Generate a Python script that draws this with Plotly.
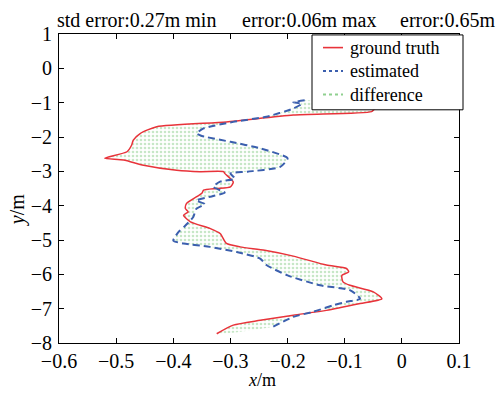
import plotly.graph_objects as go

# Ground truth trajectory
gt_x = [-0.003, -0.047, -0.053, -0.19, -0.307, -0.429, -0.458, -0.47, -0.473, -0.481,
        -0.52, -0.487, -0.452, -0.394, -0.353, -0.312, -0.31, -0.295, -0.30, -0.324,
        -0.347, -0.35, -0.359, -0.377, -0.379, -0.374, -0.382, -0.37, -0.336, -0.318,
        -0.307, -0.283, -0.24, -0.19, -0.132, -0.097, -0.093, -0.105, -0.103, -0.091,
        -0.05, -0.035, -0.073, -0.132, -0.19, -0.248, -0.295, -0.324]
gt_y = [-0.97, -1.17, -1.26, -1.36, -1.56, -1.70, -1.90, -2.09, -2.24, -2.43,
        -2.62, -2.67, -2.82, -2.97, -3.01, -3.01, -3.06, -3.31, -3.45, -3.50,
        -3.55, -3.64, -3.74, -3.94, -4.08, -4.18, -4.28, -4.47, -4.66, -4.81,
        -5.10, -5.20, -5.30, -5.47, -5.73, -5.83, -5.93, -6.03, -6.22, -6.32,
        -6.51, -6.71, -6.85, -7.05, -7.19, -7.34, -7.48, -7.73]

# Estimated trajectory
est_x = [-0.17, -0.19, -0.175, -0.19, -0.237, -0.295, -0.347, -0.359, -0.35, -0.30,
         -0.248, -0.20, -0.213, -0.27, -0.30, -0.292, -0.318, -0.33, -0.31, -0.33,
         -0.36, -0.345, -0.36, -0.365, -0.38, -0.39, -0.40, -0.382, -0.336, -0.289,
         -0.248, -0.237, -0.20, -0.143, -0.091, -0.073, -0.097, -0.12, -0.155, -0.19,
         -0.225]
est_y = [-0.93, -0.99, -1.03, -1.17, -1.41, -1.56, -1.75, -1.90, -1.97, -2.14,
         -2.33, -2.62, -2.87, -3.01, -3.06, -3.21, -3.30, -3.45, -3.62, -3.72,
         -3.85, -3.95, -4.10, -4.33, -4.60, -4.75, -5.02, -5.10, -5.20, -5.35,
         -5.54, -5.73, -6.03, -6.32, -6.46, -6.71, -6.80, -6.90, -7.09, -7.24,
         -7.52]

title_parts = ["std error:0.27m min", "error:0.06m max", "error:0.65m"]
legend_names = ["ground truth", "estimated", "difference"]
x_ticks = [-0.6, -0.5, -0.4, -0.3, -0.2, -0.1, 0, 0.1]
y_ticks = [1, 0, -1, -2, -3, -4, -5, -6, -7, -8]

RED = "#e8333a"
BLUE = "#3b5fae"
GREEN = "#8fd08f"
FONT = "serif"
FS = 20
LFS = 18

fig = go.Figure()

# difference region between the two paths
fig.add_trace(go.Scatter(
    x=gt_x + est_x[::-1], y=gt_y + est_y[::-1],
    mode="lines", fill="toself", line=dict(width=0, color="rgba(0,0,0,0)", shape="spline", smoothing=0.6),
    fillcolor="rgba(0,0,0,0)",
    fillpattern=dict(shape=".", fgcolor=GREEN, bgcolor="rgba(0,0,0,0)", size=4, solidity=0.35),
    showlegend=False, hoverinfo="skip"))

fig.add_trace(go.Scatter(x=gt_x, y=gt_y, mode="lines", name=legend_names[0], showlegend=False,
                         line=dict(color=RED, width=1.5, shape="spline", smoothing=0.6)))
fig.add_trace(go.Scatter(x=est_x, y=est_y, mode="lines", name=legend_names[1], showlegend=False,
                         line=dict(color=BLUE, width=2, dash="7px,4px", shape="spline", smoothing=0.6)))

for txt, xp in zip(title_parts, [-0.01, 0.4525, 0.8475]):
    fig.add_annotation(text=txt, x=xp, y=1.004, xref="paper", yref="paper",
                       xanchor="left", yanchor="bottom", showarrow=False,
                       font=dict(family=FONT, size=FS, color="black"))

# legend box (one multi-line text block)
row_gap = LFS * 1.3 / 309.0
mid = 1 - (71 - 34) / 309.0
fig.add_shape(type="rect", xref="paper", yref="paper", x0=0.6325, x1=1.01,
              y0=mid - 1.5 * row_gap - 0.012, y1=0.997,
              line=dict(color="black", width=1), fillcolor="white", layer="above")
leg_styles = [dict(color=RED, width=1.6), dict(color=BLUE, width=2, dash="dot"),
              dict(color=GREEN, width=2, dash="dot")]
for i, st in enumerate(leg_styles):
    yy = mid + (1 - i) * row_gap
    fig.add_shape(type="line", xref="paper", yref="paper", x0=0.66, x1=0.71, y0=yy, y1=yy,
                  line=st, layer="above")
fig.add_annotation(text="<br>".join(legend_names), x=0.7225, y=mid, xref="paper", yref="paper",
                   xanchor="left", yanchor="middle", align="left", showarrow=False,
                   font=dict(family=FONT, size=LFS, color="black"))

# axis titles
fig.add_annotation(text="<i>y</i>/m", x=-0.105, y=0.43, xref="paper", yref="paper",
                   textangle=-90, showarrow=False, xanchor="center", yanchor="middle",
                   font=dict(family=FONT, size=FS, color="black"))
fig.add_annotation(text="<i>x</i>/m", x=0.507, y=1 - (380 - 34) / 309.0, xref="paper", yref="paper",
                   showarrow=False, xanchor="center", yanchor="middle",
                   font=dict(family=FONT, size=18, color="black"))

axis_common = dict(showline=True, linecolor="black", linewidth=1, mirror="allticks",
                   ticks="inside", ticklen=5, tickcolor="black", showgrid=False,
                   zeroline=False, automargin=False,
                   tickfont=dict(family=FONT, size=FS, color="black"))

fig.update_xaxes(range=[-0.6, 0.1], tickvals=x_ticks, ticklabelstandoff=0, **axis_common)
fig.update_yaxes(range=[-8, 1], tickvals=y_ticks, ticklabelstandoff=2, **axis_common)

fig.update_layout(
    width=499, height=393,
    margin=dict(l=59, r=40, t=34, b=50),
    paper_bgcolor="white", plot_bgcolor="white",
    showlegend=False,
)

fig.write_html("out.html")
